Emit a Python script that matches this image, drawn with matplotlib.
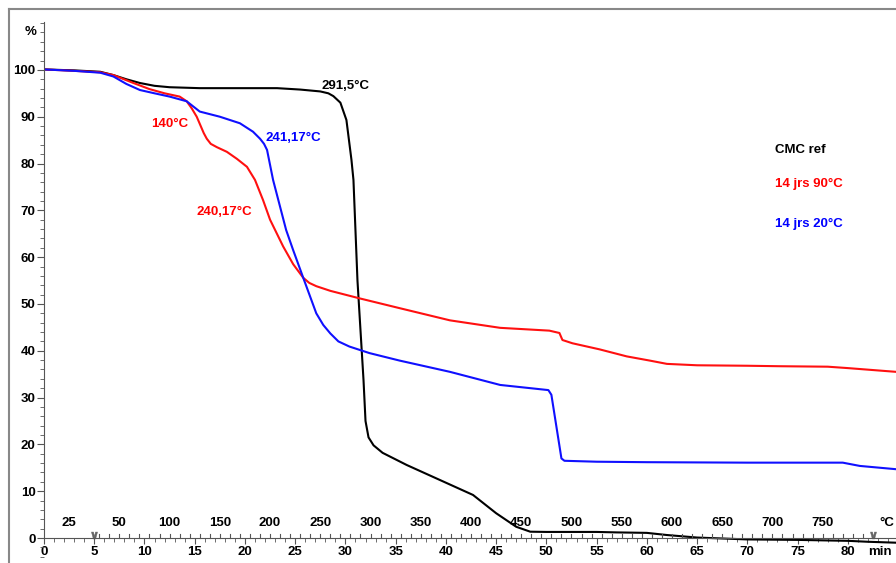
import numpy as np
import matplotlib
matplotlib.use('Agg')
import matplotlib.pyplot as plt
from matplotlib.ticker import MultipleLocator
from matplotlib.lines import Line2D

plt.rcParams['font.family'] = ['Liberation Sans', 'DejaVu Sans']
plt.rcParams['font.weight'] = 'bold'

########## Data ##########

# CMC ref (black)
t_ref = [0, 3, 5.6, 6.9, 8.2, 9.55, 11, 12.5, 15.5, 20, 23.2, 25.5, 27.5, 28.3, 28.8, 29.5, 30.1,
         30.6, 30.8, 31.2, 31.8, 32.0, 32.3, 32.8, 33.7, 36.1, 39.4, 42.7, 45.0, 47.0, 48.4,
         50, 55, 57, 60, 62, 65, 70, 75, 80, 82, 84.8]
m_ref = [100.1, 99.9, 99.6, 98.9, 98.0, 97.2, 96.6, 96.3, 96.1, 96.1, 96.1, 95.8, 95.4, 95.0, 94.4, 93.0, 89.3,
         80.8, 76.5, 55.0, 33.8, 25.0, 21.5, 19.8, 18.2, 15.6, 12.4, 9.2, 5.3, 2.4, 1.35,
         1.3, 1.3, 1.2, 1.1, 0.64, 0.1, -0.3, -0.4, -0.6, -0.8, -1.0]

# 14 jrs 90°C (red)
t_90 = [0, 3, 5.6, 6.9, 8.9, 10.5, 12, 13.5, 14.2, 14.7, 15.2, 15.9, 16.2, 16.6, 17.2, 18.2, 19.2,
        20.2, 21, 21.8, 22.5, 23.8, 24.8, 25.8, 26.4, 27.1, 28.5, 31.4, 35.4, 40.4, 45.4, 50.3,
        51.3, 51.6, 52.6, 55.3, 58, 60.3, 62, 65, 70, 73.2, 78, 80, 84.8]
m_90 = [100.1, 99.8, 99.5, 98.9, 97.2, 95.9, 95.0, 94.3, 93.3, 91.8, 90.0, 86.5, 85.3, 84.2, 83.5, 82.5, 81.0,
        79.3, 76.5, 72.2, 68.0, 62.3, 58.5, 55.6, 54.5, 53.8, 52.8, 51.2, 49.1, 46.5, 44.9, 44.3,
        43.8, 42.3, 41.6, 40.3, 38.8, 37.9, 37.2, 36.9, 36.8, 36.7, 36.6, 36.3, 35.5]

# 14 jrs 20°C (blue)
t_20 = [0, 3, 5.6, 6.9, 8.2, 9.55, 11, 12.5, 14.2, 15.5, 17.5, 19.5, 20.8, 21.5, 21.9, 22.2, 22.8,
        24.1, 24.8, 25.8, 27.1, 27.8, 28.5, 29.3, 30.4, 32.4, 35.4, 40.4, 45.4, 50.2, 50.5, 51.5, 51.8, 55,
        60, 70, 79.5, 81.2, 84.8]
m_20 = [100.1, 99.8, 99.4, 98.6, 97.0, 95.7, 95.0, 94.3, 93.3, 91.1, 90.0, 88.6, 86.8, 85.3, 84.2, 82.9, 76.5,
        65.8, 61.5, 55.6, 48.0, 45.5, 43.7, 42.0, 40.9, 39.5, 37.9, 35.5, 32.7, 31.6, 30.6, 17.0, 16.5, 16.3,
        16.2, 16.1, 16.1, 15.4, 14.7]

# temperature scale printed inside the plot
temp_labels = [25, 50, 100, 150, 200, 250, 300, 350, 400, 450, 500, 550, 600, 650, 700, 750]

# peak annotations
notes = ['291,5°C', '140°C', '241,17°C', '240,17°C']
notes_t = [30.0, 12.5, 24.8, 17.9]
notes_m = [96.6, 88.5, 85.5, 69.7]
notes_c = ['black', 'red', 'blue', 'red']

legend_names = ['CMC ref', '14 jrs 90°C', '14 jrs 20°C']
legend_colors = ['black', 'red', 'blue']
legend_m = [82.9, 75.6, 67.1]


def temp_to_min(T):
    # 5 min isotherm at 25°C, then 10°C/min
    if T <= 25:
        return 2.5
    return 5 + (T - 25) / 10.


########## Figure ##########

fig = plt.figure(figsize=(8.96, 5.63), dpi=100)
ax = fig.add_axes([44 / 896., 0.0028, 852 / 896., 0.9645])

ax.plot(t_ref, m_ref, color='black', lw=1.5)
ax.plot(t_90, m_90, color='#ff1010', lw=1.5)
ax.plot(t_20, m_20, color='#1010ff', lw=1.5)

ax.set_xlim(0, 84.8)
ax.set_ylim(-5, 111)

for s in ['top', 'right']:
    ax.spines[s].set_visible(False)
ax.spines['bottom'].set_position(('data', 0))
ax.spines['left'].set_bounds(0, 110.3)
ax.spines['bottom'].set_color('#555555')
ax.spines['left'].set_color('#555555')

ax.xaxis.set_minor_locator(MultipleLocator(1))
ax.set_xticks(np.arange(0, 85, 5))
ax.yaxis.set_minor_locator(MultipleLocator(2))
ax.set_yticks(np.arange(0, 101, 10))
ax.tick_params(axis='x', which='major', direction='out', length=4, labelsize=9.5, pad=2, color='#555555')
ax.tick_params(axis='x', which='minor', direction='out', length=3, color='#555555')
ax.tick_params(axis='y', which='major', direction='out', length=5, labelsize=9.5, pad=1, color='#555555')
ax.tick_params(axis='y', which='minor', direction='out', length=3, color='#555555')

# upward ticks of the temperature scale (every 10°C)
for T in range(30, 800, 10):
    ax.plot([temp_to_min(T)] * 2, [0, 0.9], color='#555555', lw=0.8)

for T in temp_labels:
    ax.text(temp_to_min(T), 3.2, str(T), ha='center', va='center', fontsize=9.5)
ax.text(83.9, 3.2, '°C', ha='center', va='center', fontsize=9.5)
ax.text(83.2, -3.0, 'min', ha='center', va='center', fontsize=9.5)
ax.text(-1.3, 108, '%', ha='center', va='center', fontsize=9.5)

# segment markers
for tm in [5, 82.5]:
    ax.plot(tm, 0.6, marker=r'$\vee$', color='#666666', ms=5, mew=0.3)

for s, tx, my, c in zip(notes, notes_t, notes_m, notes_c):
    ax.text(tx, my, s, ha='center', va='center', color=c, fontsize=9.5)

for s, c, my in zip(legend_names, legend_colors, legend_m):
    ax.text(72.8, my, s, ha='left', va='center', color=c, fontsize=9.5)

# grey frame of the original export
fig.add_artist(Line2D([9 / 896., 9 / 896.], [0, 1 - 9 / 563.], transform=fig.transFigure, color='#888888', lw=1.5))
fig.add_artist(Line2D([9 / 896., 1], [1 - 9 / 563.] * 2, transform=fig.transFigure, color='#888888', lw=1.5))

fig.savefig('out.png', dpi=100)
